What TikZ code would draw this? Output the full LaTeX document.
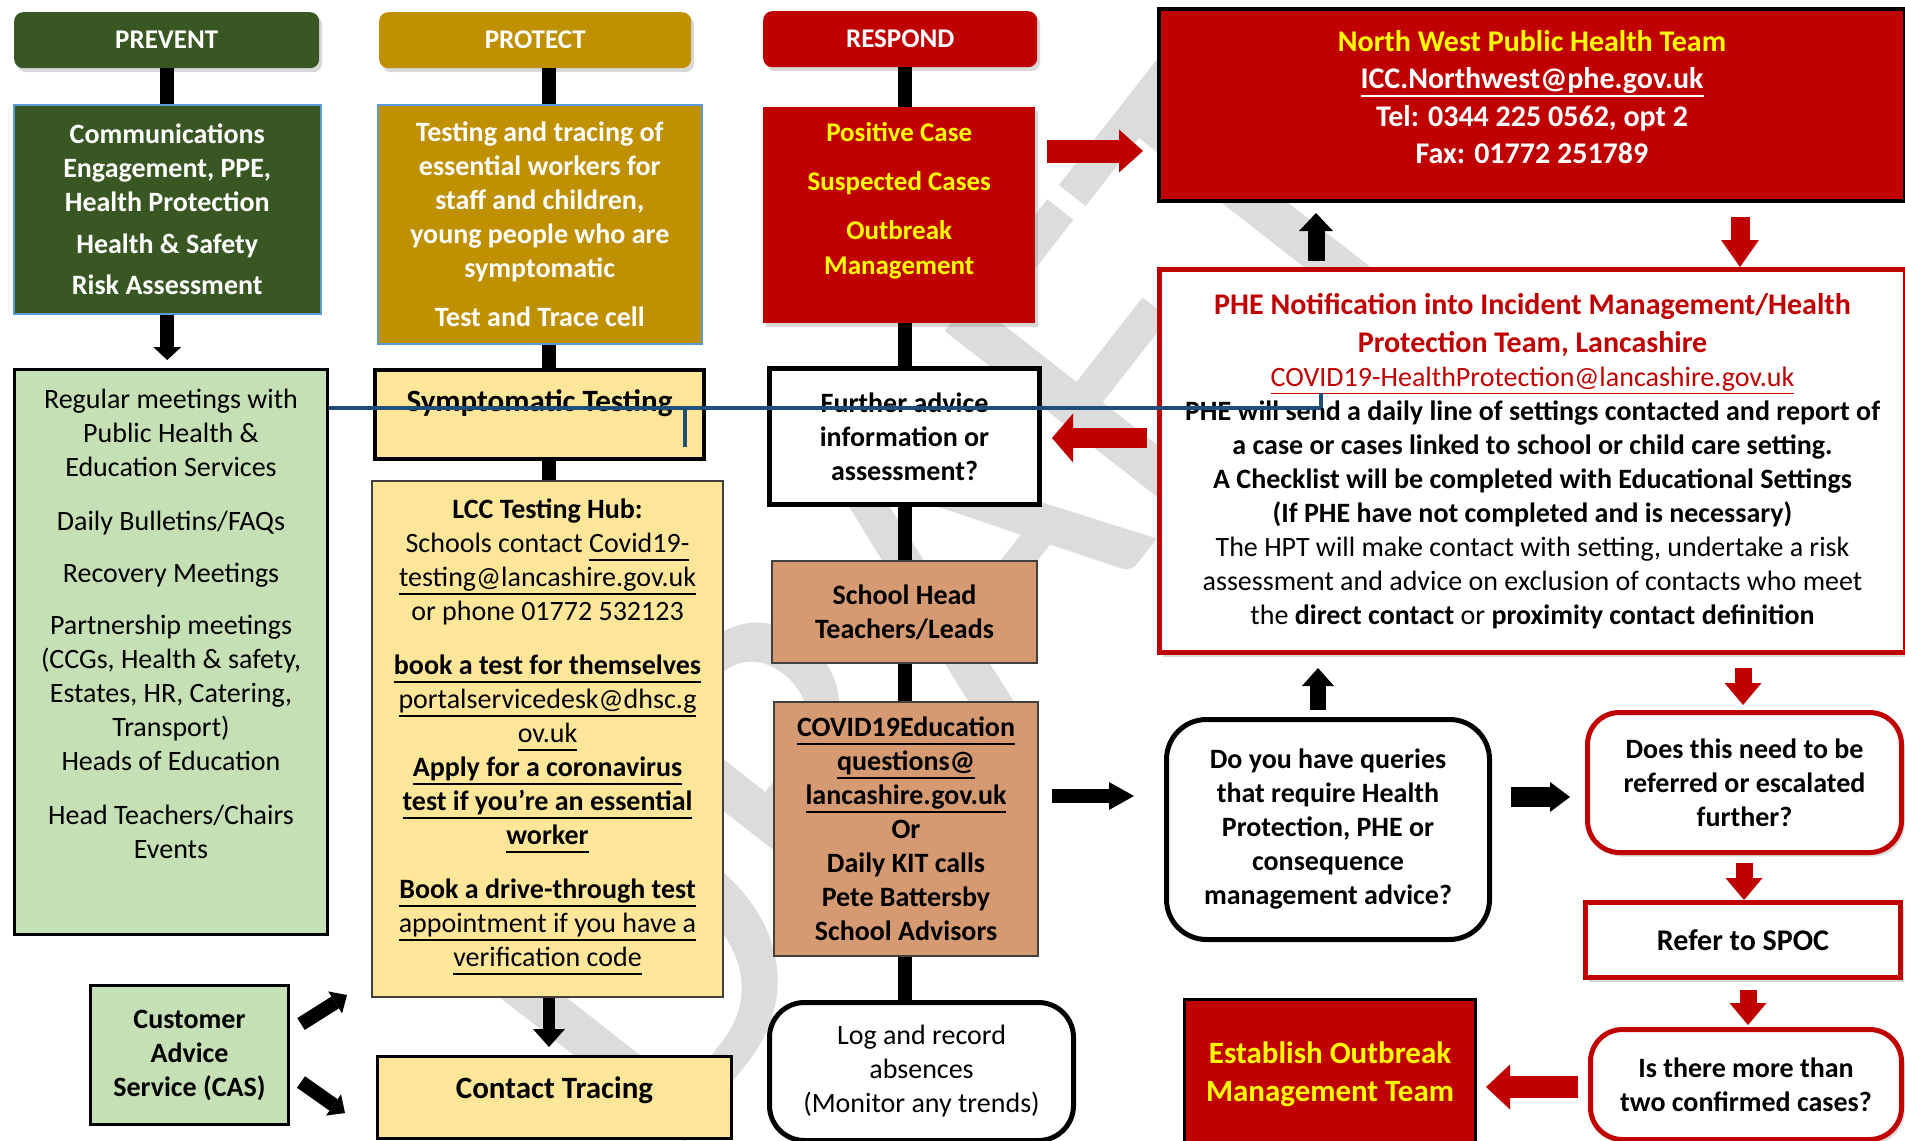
\documentclass[tikz,border=0pt]{standalone}
\usepackage{fontspec}
\setmainfont{Carlito}
\usetikzlibrary{arrows.meta,shadows,calc}
\definecolor{dgreen}{HTML}{385723}
\definecolor{gold}{HTML}{BF9000}
\definecolor{dred}{HTML}{C00000}
\definecolor{lgreen}{HTML}{C5E0B4}
\definecolor{lyellow}{HTML}{FFE699}
\definecolor{salmon}{HTML}{D69A72}
\definecolor{wmgray}{HTML}{DCDCDC}
\definecolor{bline}{HTML}{1F4E79}
\definecolor{ybright}{HTML}{FFFF00}
\definecolor{lblue}{HTML}{5B9BD5}
\definecolor{dgray}{HTML}{404040}
\newcommand{\fsz}[2]{\fontsize{#1}{#2}\selectfont}
\newcommand{\myul}[1]{\leavevmode\setbox0=\hbox{#1}\rlap{\smash{\vrule width \wd0 height -0.22em depth 0.29em}}\box0}
\begin{document}
\begin{tikzpicture}[x=1pt,y=-1pt,
  every node/.append style={font=\fsz{28}{34}},
  box/.style={draw, inner sep=0pt, anchor=north west, align=center},
  txt/.style={inner sep=0pt, align=center},
  shad/.style={drop shadow={shadow xshift=3pt, shadow yshift=-4pt, opacity=0.3}},
  hdr/.style={box, draw=none, rounded corners=9pt, text=white, font=\fsz{27}{32}\bfseries, shad},
  conn/.style={line width=14pt, draw=black},
  blk/.style n args={3}{draw=black, line width=#1, -{Triangle[width=#2,length=#3,line width=0pt]}},
  rd/.style n args={3}{draw=dred, line width=#1, -{Triangle[width=#2,length=#3,line width=0pt]}},
  bluel/.style={draw=bline, line width=4pt}
]
\useasboundingbox (0,0) rectangle (1905,1140);
\fill[white] (0,0) rectangle (1905,1140);

% watermark
\node[text=wmgray, font=\fsz{460}{460}, rotate=52, inner sep=0pt] (wmark) at (930,590) {DRAFT};

% headers
\node[hdr, fill=dgreen, minimum width=305pt, minimum height=56pt] (prevhdr) at (14,12) {PREVENT};
\node[hdr, fill=gold, minimum width=312pt, minimum height=56pt] (prothdr) at (379,12) {PROTECT};
\node[hdr, fill=dred, minimum width=274pt, minimum height=56pt] (resphdr) at (763,11) {RESPOND};

% column 1
\node[box, fill=dgreen, draw=lblue, line width=1.5pt, minimum width=307pt, minimum height=209pt, text=white, font=\fsz{28}{34}\bfseries] (comm) at (13,104)
 {Communications\\Engagement, PPE,\\Health Protection\\[8pt]Health \& Safety\\[7pt]Risk Assessment};
\node[box, fill=lgreen, line width=3pt, minimum width=313pt, minimum height=565pt] (lgreen) at (13,368) {};
\node[txt] (lgreenT) at ($(lgreen.center)+(0,-28)$)
 {Regular meetings with\\Public Health \&\\Education Services\\[20pt]Daily Bulletins/FAQs\\[18pt]Recovery Meetings\\[18pt]Partnership meetings\\(CCGs, Health \& safety,\\Estates, HR, Catering,\\Transport)\\Heads of Education\\[20pt]Head Teachers/Chairs\\Events};
\node[box, fill=lgreen, line width=3pt, minimum width=198pt, minimum height=139pt, font=\fsz{28}{34}\bfseries] (cas) at (89,984)
 {Customer\\Advice\\Service (CAS)};

% column 2
\node[box, fill=gold, draw=lblue, line width=1.5pt, minimum width=324pt, minimum height=239pt, text=white, font=\fsz{28}{34}\bfseries] (protbox) at (377,104)
 {Testing and tracing of\\essential workers for\\staff and children,\\young people who are\\symptomatic\\[15pt]Test and Trace cell};
\node[box, fill=lyellow, line width=4pt, minimum width=329pt, minimum height=89pt] (symp) at (373,368) {};
\node[txt, font=\fsz{31}{36}\bfseries] (sympT) at ($(symp.center)+(0,-11)$) {Symptomatic Testing};
\node[box, fill=lyellow, draw=dgray, line width=2pt, minimum width=351pt, minimum height=516pt] (lcc) at (371,480) {};
\node[txt] (lccT) at ($(lcc.center)+(0,-6)$)
 {\textbf{LCC Testing Hub:}\\
  Schools contact \myul{Covid19-}\\
  \myul{testing@lancashire.gov.uk}\\
  or phone 01772 532123\\[20pt]
  \myul{\textbf{book a test for themselves}}\\
  \myul{portalservicedesk@dhsc.g}\\
  \myul{ov.uk}\\
  \myul{\textbf{Apply for a coronavirus}}\\
  \myul{\textbf{test if you’re an essential}}\\
  \myul{\textbf{worker}}\\[20pt]
  \myul{\textbf{Book a drive-through test}}\\
  \myul{appointment if you have a}\\
  \myul{verification code}};
\node[box, fill=lyellow, line width=3pt, minimum width=354pt, minimum height=82pt] (ct) at (376,1055) {};
\node[txt, font=\fsz{31}{36}\bfseries] (ctT) at ($(ct.center)+(0,-7)$) {Contact Tracing};

% column 3
\node[box, fill=dred, draw=none, minimum width=272pt, minimum height=216pt, shad] (respbox) at (763,107) {};
\node[txt, text=ybright, font=\fsz{27}{35}\bfseries] (respT) at ($(respbox.center)+(0,-14)$)
 {Positive Case\\[14pt]Suspected Cases\\[14pt]Outbreak\\Management};
\node[box, fill=white, line width=5pt, minimum width=270pt, minimum height=136pt, font=\fsz{28}{34}\bfseries] (further) at (767,366)
 {Further advice\\information or\\assessment?};
\node[box, fill=salmon, draw=dgray, line width=2pt, minimum width=265pt, minimum height=102pt, font=\fsz{28}{34}\bfseries] (school) at (771,560)
 {School Head\\Teachers/Leads};
\node[box, fill=salmon, draw=dgray, line width=2pt, minimum width=264pt, minimum height=254pt, font=\fsz{28}{34}\bfseries] (coved) at (773,701)
 {\myul{COVID19Education}\\\myul{questions@}\\\myul{lancashire.gov.uk}\\Or\\Daily KIT calls\\Pete Battersby\\School Advisors};
\node[box, fill=white, line width=5pt, rounded corners=35pt, minimum width=304pt, minimum height=138pt] (log) at (767,1000)
 {Log and record\\absences\\(Monitor any trends)};

% right side
\node[box, fill=dred, line width=4pt, minimum width=746pt, minimum height=192pt] (nw) at (1157,7) {};
\node[txt, text=white, font=\fsz{30}{37.5}\bfseries] (nwT) at ($(nw.center)+(0,-8)$)
 {\textcolor{ybright}{North West Public Health Team}\\\myul{ICC.Northwest@phe.gov.uk}\\Tel: 0344 225 0562, opt 2\\Fax: 01772 251789};
\node[box, fill=white, draw=dred, line width=5pt, minimum width=746pt, minimum height=383pt, shad] (phe) at (1157,267)
 {\textcolor{dred}{\fsz{30}{38}\bfseries PHE Notification into Incident Management/Health}\\[4pt]
  \textcolor{dred}{\fsz{30}{38}\bfseries Protection Team, Lancashire}\\
  \textcolor{dred}{\myul{COVID19-HealthProtection@lancashire.gov.uk}}\\
  \textbf{PHE will send a daily line of settings contacted and report of}\\
  \textbf{a case or cases linked to school or child care setting.}\\
  \textbf{A Checklist will be completed with Educational Settings}\\
  \textbf{(If PHE have not completed and is necessary)}\\
  The HPT will make contact with setting, undertake a risk\\
  assessment and advice on exclusion of contacts who meet\\
  the \textbf{direct contact} or \textbf{proximity contact definition}};
\node[box, fill=white, line width=5pt, rounded corners=40pt, minimum width=323pt, minimum height=220pt, font=\fsz{28}{34}\bfseries] (queries) at (1164,717)
 {Do you have queries\\that require Health\\Protection, PHE or\\consequence\\management advice?};
\node[box, fill=white, draw=dred, line width=5pt, rounded corners=32pt, minimum width=314pt, minimum height=140pt, font=\fsz{28}{34}\bfseries, shad] (does) at (1585,710)
 {Does this need to be\\referred or escalated\\further?};
\node[box, fill=white, draw=dred, line width=5pt, minimum width=315pt, minimum height=75pt, font=\fsz{30}{36}\bfseries, shad] (refer) at (1583,900)
 {Refer to SPOC};
\node[box, fill=white, draw=dred, line width=5pt, rounded corners=32pt, minimum width=311pt, minimum height=110pt, font=\fsz{28}{34}\bfseries, shad] (isthere) at (1588,1027)
 {Is there more than\\two confirmed cases?};
\node[box, fill=dred, line width=3pt, minimum width=291pt, minimum height=150pt, text=ybright, font=\fsz{31}{38}\bfseries] (estab) at (1183,998)
 {Establish Outbreak\\Management Team};

% helper coordinates
\coordinate (pc) at (549,0);
\coordinate (rc) at (905,0);
\coordinate (ya) at (0,151);
\coordinate (yb) at (0,438);
\coordinate (yc) at (0,796);
\coordinate (yd) at (0,797);
\coordinate (ye) at (0,1087);
\coordinate (xa) at (1316,0);
\coordinate (xb) at (1740,0);
\coordinate (xc) at (1318,0);
\coordinate (xd) at (1743,0);
\coordinate (xe) at (1744,0);
\coordinate (xf) at (1748,0);

% plain connectors
\draw[conn] (prevhdr.south) -- (prevhdr.south |- comm.north);
\draw[conn] (pc |- prothdr.south) -- (pc |- protbox.north);
\draw[conn] (pc |- protbox.south) -- (pc |- symp.north);
\draw[conn] (pc |- symp.south) -- (pc |- lcc.north);
\draw[conn] (rc |- resphdr.south) -- (rc |- respbox.north);
\draw[conn] (rc |- respbox.south) -- (rc |- further.north);
\draw[conn] (rc |- further.south) -- (rc |- school.north);
\draw[conn] (rc |- school.south) -- (rc |- coved.north);
\draw[conn] (rc |- coved.south) -- (rc |- log.north);

% arrows
\draw[blk={14pt}{28pt}{13pt}, shorten >=8pt] (comm.south) -- (comm.south |- lgreen.north);
\draw[blk={12pt}{32pt}{18pt}, shorten >=8pt] (pc |- lcc.south) -- (pc |- ct.north);
\draw[blk={14pt}{26pt}{14pt}] ($(cas.east)+(11,-31)$) -- ($(cas.east)+(57,-60)$);
\draw[blk={14pt}{26pt}{14pt}] ($(cas.east)+(11,27)$) -- ($(cas.east)+(55,58)$);
\draw[rd={23pt}{43pt}{24pt}, shorten <=12pt, shorten >=14pt] (respbox.east |- ya) -- (nw.west |- ya);
\draw[rd={20pt}{49pt}{21pt}, shorten <=10pt, shorten >=10pt] (phe.west |- yb) -- (further.east |- yb);
\draw[blk={17pt}{34pt}{18pt}, shorten <=6pt, shorten >=10pt] (xa |- phe.north) -- (xa |- nw.south);
\draw[rd={19pt}{38pt}{27pt}, shorten <=14pt] (xb |- nw.south) -- (xb |- phe.north);
\draw[blk={14pt}{28pt}{25pt}, shorten <=13pt, shorten >=30pt] (coved.east |- yc) -- (queries.west |- yc);
\draw[blk={16pt}{32pt}{18pt}, shorten <=7pt, shorten >=13pt] (xc |- queries.north) -- (xc |- phe.south);
\draw[blk={20pt}{30pt}{20pt}, shorten <=19pt, shorten >=15pt] (queries.east |- yd) -- (does.west |- yd);
\draw[rd={17pt}{37pt}{22pt}, shorten <=13pt, shorten >=5pt] (xd |- phe.south) -- (xd |- does.north);
\draw[rd={17pt}{37pt}{22pt}, shorten <=8pt] (xe |- does.south) -- (xe |- refer.north);
\draw[rd={17pt}{37pt}{22pt}, shorten <=10pt, shorten >=2pt] (xf |- refer.south) -- (xf |- isthere.north);
\draw[rd={22pt}{45pt}{24pt}, shorten <=10pt, shorten >=9pt] (isthere.west |- ye) -- (estab.east |- ye);

% stray blue line
\coordinate (bly) at (0,408);
\coordinate (blE) at (1321,408);
\coordinate (blT) at (1321,393);
\coordinate (t1a) at (685,408);
\coordinate (t1b) at (685,447);
\draw[bluel] (lgreen.east |- bly) -- (blE);
\draw[bluel] (blE) -- (blT);
\draw[bluel] (t1a) -- (t1b);
\end{tikzpicture}
\end{document}
